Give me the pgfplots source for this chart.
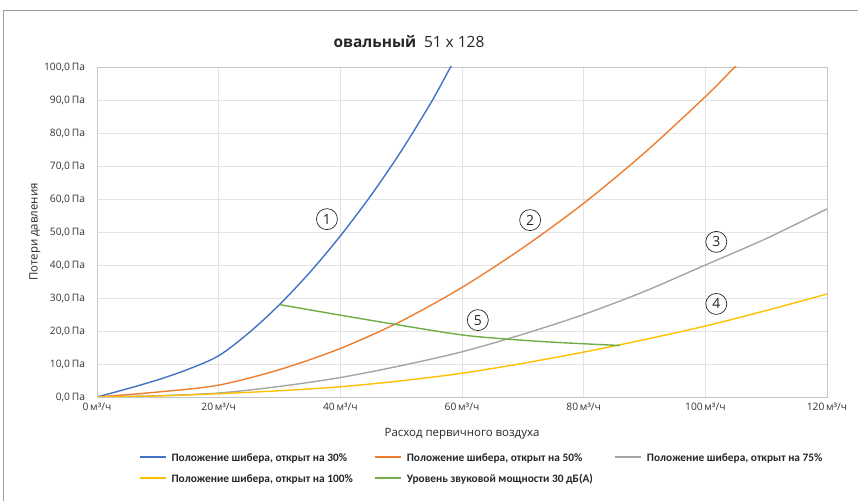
\documentclass[border=0pt]{standalone}
\usepackage{pgfplots}
\pgfplotsset{compat=1.18}
\usepackage{fontspec}
\setmainfont{Open Sans}
\newfontfamily\legfont{Carlito}
\definecolor{cblue}{HTML}{4472C4}
\definecolor{corange}{HTML}{ED7D31}
\definecolor{cgray}{HTML}{A5A5A5}
\definecolor{cyellow}{HTML}{FFC000}
\definecolor{cgreen}{HTML}{70AD47}
\newcommand{\lgline}[1]{\textcolor{#1}{\rule[0.3em]{26bp}{2bp}}\hspace{6bp}}
\begin{document}
\begin{tikzpicture}[x=1bp,y=1bp]
\path[use as bounding box] (0,0) rectangle (858,501);
\draw[gray!75, line width=1bp] (3,0) -- (3,490) -- (858,490);
\node[font=\fontsize{15.5}{18}\selectfont, text=black!85] at (409,459) {\textbf{овальный}\enspace 51 x 128};
\node[font=\fontsize{11.5}{13}\selectfont, rotate=90, text=black!85] at (35,269) {Потери давления};
\node[font=\fontsize{11.5}{13}\selectfont, text=black!85] at (462,67) {Расход первичного воздуха};
\begin{axis}[
  at={(97bp,104bp)}, anchor=south west, scale only axis,
  width=730bp, height=330bp,
  xmin=0, xmax=120, ymin=0, ymax=100,
  xtick={0,20,...,120}, ytick={0,10,...,100},
  grid=major, major grid style={gray!22, line width=0.8bp},
  axis line style={gray!45, line width=0.8bp},
  major tick length=0pt,
  /pgf/number format/assume math mode=true,
  xticklabel={\pgfmathprintnumber{\tick}\,м³/ч},
  yticklabel={\pgfmathprintnumber[fixed,fixed zerofill,precision=1,use comma]{\tick}\,Па},
  ticklabel style={font=\fontsize{10.3}{12}\selectfont, text=black!80},
  xticklabel style={yshift=-3bp},
  yticklabel style={xshift=-8.5bp},
  legend style={at={(axis description cs:0.526,-0.158)}, anchor=north, draw=none, fill=none,
    font=\legfont\fontsize{11.4}{13}\selectfont\bfseries, text=black!85, legend columns=3,
    /tikz/every even column/.append style={column sep=18bp}, row sep=7.5bp},
  legend cell align=left,
  legend image code/.code={},
  every axis plot/.append style={line width=1.4bp, smooth, no marks},
]
\addplot[cblue, forget plot] coordinates {(0,0) (5,2.5) (10,5.2) (15,8.4) (20,12.5) (25,19.5) (30,28) (35,37.8) (40,48.8) (45,61) (50,74.5) (55,89.5) (58,99.6) (60,106.5)};
\addplot[corange, forget plot] coordinates {(0,0) (10,1.5) (20,3.6) (30,8.3) (40,14.7) (50,23) (60,33.2) (70,45.2) (80,58.7) (90,74) (100,91) (105,100.3) (108,106)};
\addplot[cgray, forget plot] coordinates {(0,0) (10,0.4) (20,1.2) (30,3.2) (40,5.9) (50,9.5) (60,13.7) (70,19) (80,25) (90,32) (100,40) (110,48) (120,57)};
\addplot[cyellow, forget plot] coordinates {(0,0) (10,0.3) (20,1) (30,1.9) (40,3.1) (50,4.9) (60,7.2) (70,10.2) (80,13.6) (90,17.4) (100,21.5) (110,26.2) (120,31.2)};
\addplot[cgreen, forget plot] coordinates {(30,28) (40,24.8) (50,21.7) (60,18.8) (67,17.6) (75,16.6) (86,15.6)};
\addlegendimage{empty legend}
\addlegendentry{\lgline{cblue}Положение шибера, открыт на 30\%}
\addlegendimage{empty legend}
\addlegendentry{\lgline{corange}Положение шибера, открыт на 50\%}
\addlegendimage{empty legend}
\addlegendentry{\lgline{cgray}Положение шибера, открыт на 75\%}
\addlegendimage{empty legend}
\addlegendentry{\lgline{cyellow}Положение шибера, открыт на 100\%}
\addlegendimage{empty legend}
\addlegendentry{\lgline{cgreen}Уровень звуковой мощности 30 дБ(А)}
\tikzset{circnum/.style={circle, draw=black!85, line width=0.7bp, inner sep=0pt, minimum size=21bp, font=\fontsize{14}{16}\selectfont, text=black!85}}
\node[circnum] at (axis cs:37.8,53.9) {1};
\node[circnum] at (axis cs:71.2,53.6) {2};
\node[circnum] at (axis cs:101.8,47) {3};
\node[circnum] at (axis cs:101.8,28.2) {4};
\node[circnum] at (axis cs:62.6,23.3) {5};
\end{axis}
\end{tikzpicture}
\end{document}
